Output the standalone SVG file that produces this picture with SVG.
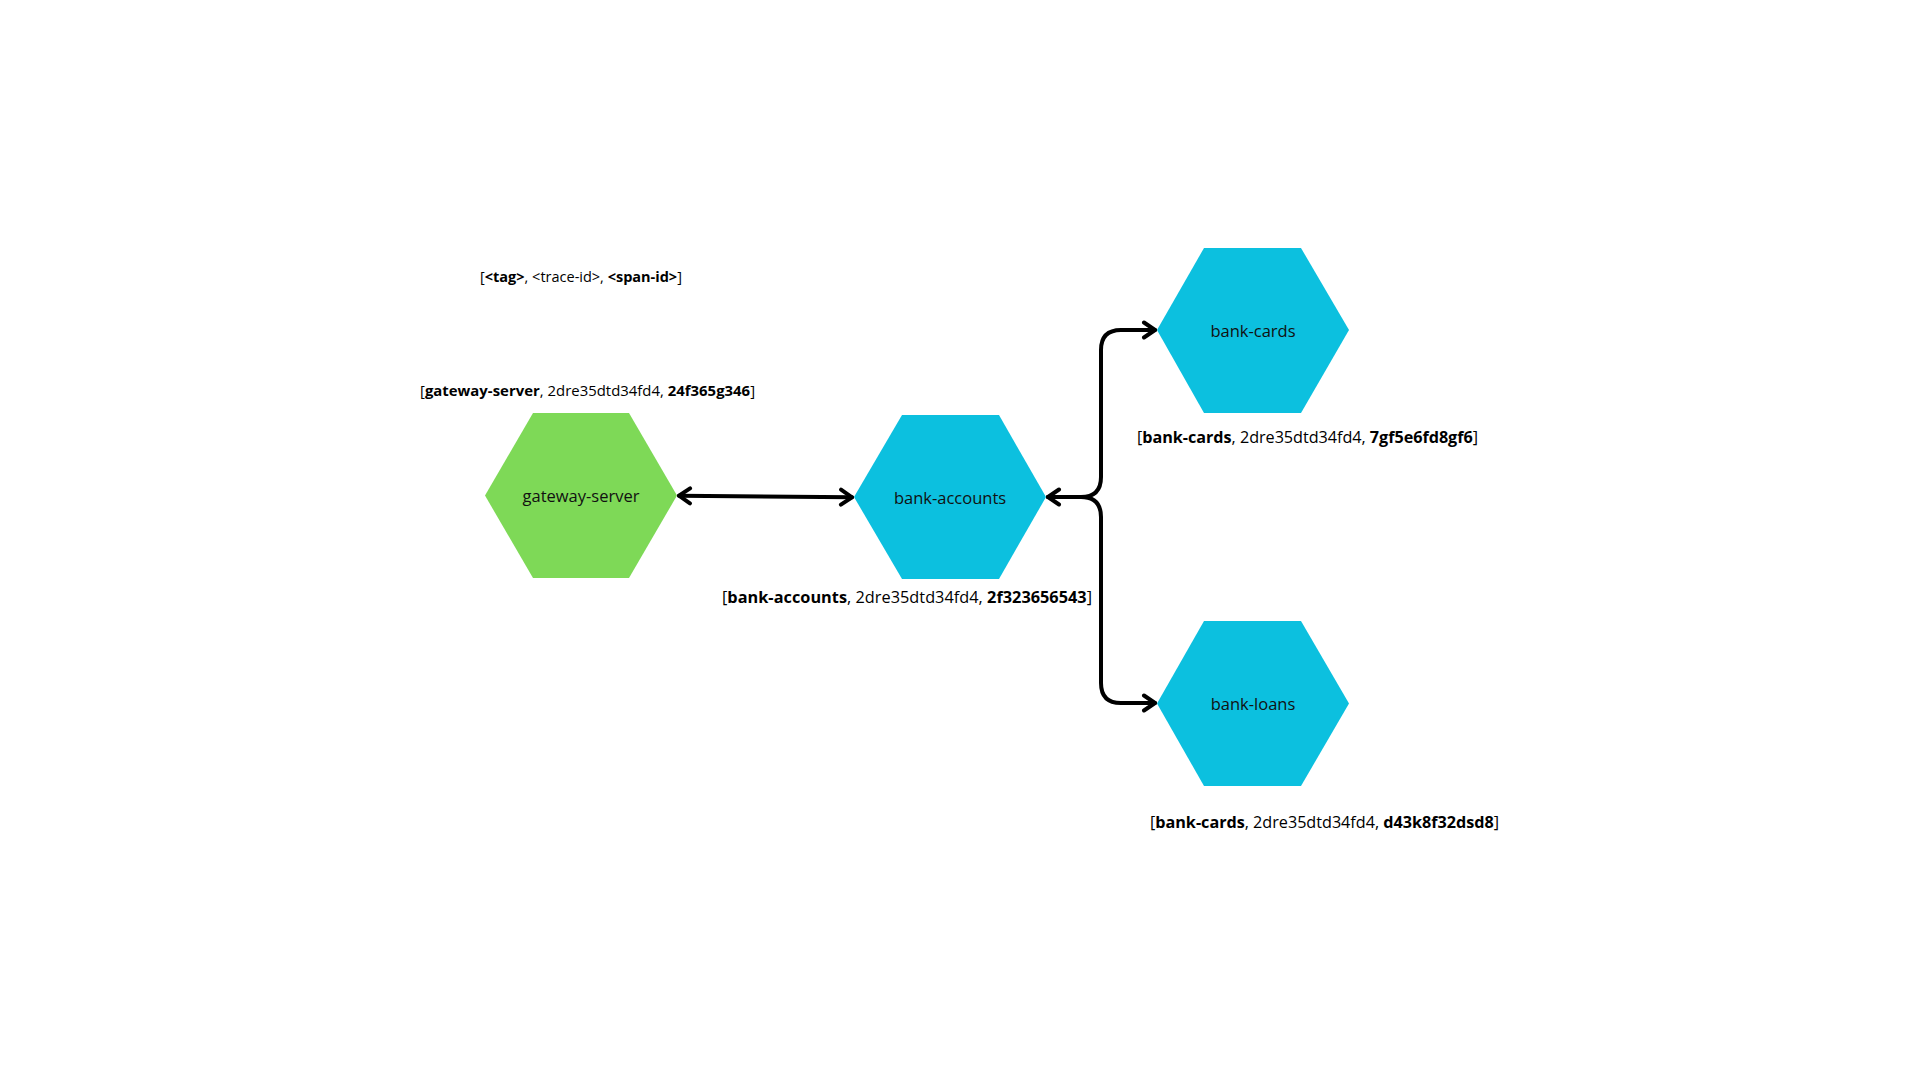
<svg xmlns="http://www.w3.org/2000/svg" width="1920" height="1080" viewBox="0 0 1920 1080">
<style>
  .green{fill:#7ED957}
  .blue{fill:#0CC0DF}
  .name{font-family:"Open Sans","Liberation Sans",sans-serif;font-size:16.5px;fill:#111;text-anchor:middle}
  .lbl{font-family:"Open Sans","Liberation Sans",sans-serif;fill:#000}
  .b{font-weight:bold}
  .conn{fill:none;stroke:#000;stroke-width:4;stroke-linecap:round;stroke-linejoin:round}
</style>
<defs>
  <marker id="arr" markerUnits="userSpaceOnUse" markerWidth="20" markerHeight="20" viewBox="-14 -10 16 20" refX="0" refY="0" orient="auto-start-reverse">
    <path d="M-11,-7.5 L0,0 L-11,7.5" fill="none" stroke="#000" stroke-width="4" stroke-linecap="round" stroke-linejoin="round"/>
  </marker>
</defs>
<rect width="1920" height="1080" fill="#fff"/>

<text class="lbl" x="480" y="282" font-size="14.5">[<tspan class="b">&lt;tag&gt;</tspan>, &lt;trace-id&gt;, <tspan class="b">&lt;span-id&gt;</tspan>]</text>

<g id="connectors">
  <path class="conn" d="M679,495.7 L852,497.3" marker-start="url(#arr)" marker-end="url(#arr)"/>
  <path class="conn" d="M1048,497 H1081 Q1101,497 1101,477 V350 Q1101,330 1121,330 H1155" marker-start="url(#arr)" marker-end="url(#arr)"/>
  <path class="conn" d="M1048,497 H1081 Q1101,497 1101,517 V683 Q1101,703 1121,703 H1155" marker-end="url(#arr)"/>
</g>

<g id="gateway-server">
  <polygon class="green" points="485,495.5 533,413 629,413 677,495.5 629,578 533,578"/>
  <text class="name" x="581" y="502">gateway-server</text>
  <text class="lbl" x="420" y="396" font-size="14.9" textLength="335">[<tspan class="b">gateway-server</tspan>, 2dre35dtd34fd4, <tspan class="b">24f365g346</tspan>]</text>
</g>

<g id="bank-accounts">
  <polygon class="blue" points="854,497 902,415 999,415 1046,497 999,579 902,579"/>
  <text class="name" x="950" y="504">bank-accounts</text>
  <text class="lbl" x="722" y="603" font-size="16.3" textLength="370">[<tspan class="b">bank-accounts</tspan>, 2dre35dtd34fd4, <tspan class="b">2f323656543</tspan>]</text>
</g>

<g id="bank-cards">
  <polygon class="blue" points="1157,330 1204,248 1301,248 1349,330 1301,413 1204,413"/>
  <text class="name" x="1253" y="337">bank-cards</text>
  <text class="lbl" x="1137" y="443" font-size="16.2" textLength="341">[<tspan class="b">bank-cards</tspan>, 2dre35dtd34fd4, <tspan class="b">7gf5e6fd8gf6</tspan>]</text>
</g>

<g id="bank-loans">
  <polygon class="blue" points="1157,703.5 1204,621 1301,621 1349,703.5 1301,786 1204,786"/>
  <text class="name" x="1253" y="710">bank-loans</text>
  <text class="lbl" x="1150" y="828" font-size="16.2" textLength="349">[<tspan class="b">bank-cards</tspan>, 2dre35dtd34fd4, <tspan class="b">d43k8f32dsd8</tspan>]</text>
</g>
</svg>
